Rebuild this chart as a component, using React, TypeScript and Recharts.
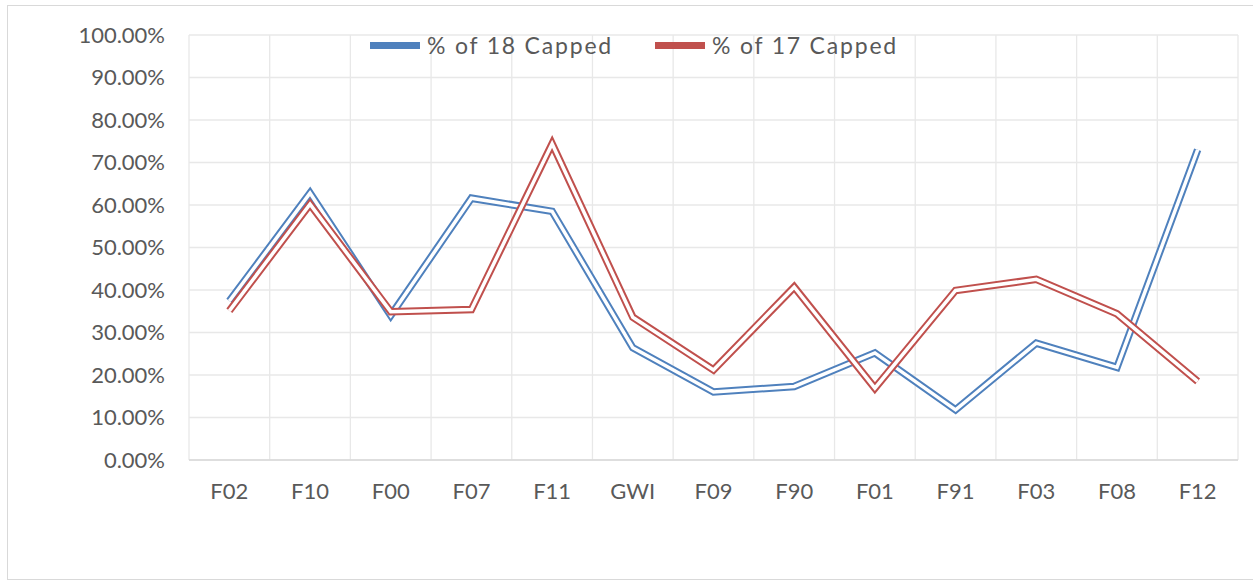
import { CartesianGrid, Legend, Line, LineChart, XAxis, YAxis } from "recharts";

const FONDOS = ["F02", "F10", "F00", "F07", "F11", "GWI", "F09", "F90", "F01", "F91", "F03", "F08", "F12"];
const CAPPED_18 = [0.374, 0.628, 0.34, 0.616, 0.585, 0.264, 0.16, 0.173, 0.252, 0.118, 0.275, 0.218, 0.73];
const CAPPED_17 = [0.351, 0.602, 0.349, 0.354, 0.744, 0.336, 0.212, 0.407, 0.169, 0.399, 0.425, 0.344, 0.185];
const TICKS_Y = [0, 0.1, 0.2, 0.3, 0.4, 0.5, 0.6, 0.7, 0.8, 0.9, 1];

const AZUL = "#4f81bd";
const ROJO = "#c0504d";
const GRIS = "#595959";
const FUENTE = "Lato, 'Open Sans', sans-serif";

const dados = FONDOS.map((f, i) => ({ fondo: f, s18: CAPPED_18[i], s17: CAPPED_17[i] }));

const SERIES = [
  { key: "s18", nome: "% of 18 Capped", cor: AZUL },
  { key: "s17", nome: "% of 17 Capped", cor: ROJO },
];

function LegendaDupla() {
  return (
    <div
      style={{
        display: "flex",
        alignItems: "center",
        height: 28,
        fontFamily: FUENTE,
        fontSize: 23,
        letterSpacing: 1.8,
        color: GRIS,
        whiteSpace: "nowrap",
      }}
    >
      {SERIES.map((s, i) => (
        <div key={s.key} style={{ display: "flex", alignItems: "center", marginLeft: i === 0 ? 0 : 42 }}>
          <span style={{ display: "inline-block", width: 50, height: 7, background: s.cor, marginRight: 7 }} />
          <span>{s.nome}</span>
        </div>
      ))}
    </div>
  );
}

export default function App() {
  const larguraLinha = 7.5;
  const vao = 3.5;
  return (
    <div style={{ position: "absolute", left: 0, top: 0, width: 1253, height: 582, background: "#fff", overflow: "hidden" }}>
      <div
        style={{
          position: "absolute",
          left: 7,
          top: 5,
          width: 1260,
          height: 575,
          border: "1px solid #d9d9d9",
          boxSizing: "border-box",
        }}
      />
      <div style={{ position: "absolute", left: 0, top: 0 }}>
        <LineChart width={1253} height={582} data={dados} margin={{ top: 7, right: 15, left: 0, bottom: 0 }}>
          <CartesianGrid
            stroke="#e8e8e8"
            strokeWidth={1.3}
            horizontal
            vertical
            verticalCoordinatesGenerator={({ offset }: any) =>
              FONDOS.map((_, i) => offset.left + (i * offset.width) / FONDOS.length).concat(offset.left + offset.width)
            }
          />
          <XAxis
            dataKey="fondo"
            interval={0}
            padding={{ left: 40.35, right: 40.35 }}
            height={122}
            tickLine={false}
            tickSize={0}
            tickMargin={23}
            axisLine={{ stroke: "#d9d9d9", strokeWidth: 1.5 }}
            tick={{ fill: GRIS, fontSize: 22, fontFamily: FUENTE }}
          />
          <YAxis
            domain={[0, 1]}
            ticks={TICKS_Y}
            interval={0}
            width={189}
            tickLine={false}
            tickSize={0}
            tickMargin={24}
            axisLine={false}
            tickFormatter={(v: number) => `${(v * 100).toFixed(2)}%`}
            tick={{ fill: GRIS, fontSize: 22, fontFamily: FUENTE }}
          />
          <Legend
            verticalAlign="top"
            content={() => <LegendaDupla />}
            wrapperStyle={{ top: 31, left: 370, width: "auto", height: 28 }}
          />
          {SERIES.flatMap((s) => [
            <Line
              key={s.key + "-cor"}
              dataKey={s.key}
              name={s.nome}
              type="linear"
              stroke={s.cor}
              strokeWidth={larguraLinha}
              strokeLinecap="butt"
              strokeLinejoin="miter"
              dot={false}
              activeDot={false}
              isAnimationActive={false}
            />,
            <Line
              key={s.key + "-vao"}
              dataKey={s.key}
              type="linear"
              stroke="#ffffff"
              strokeWidth={vao}
              strokeLinecap="butt"
              strokeLinejoin="miter"
              dot={false}
              activeDot={false}
              legendType="none"
              isAnimationActive={false}
            />,
          ])}
        </LineChart>
      </div>
    </div>
  );
}
